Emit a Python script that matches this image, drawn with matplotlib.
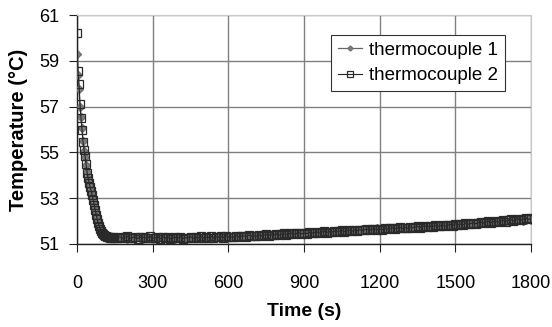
import numpy as np
import matplotlib
matplotlib.use("Agg")
import matplotlib.pyplot as plt

plt.rcParams['font.family'] = ['Liberation Sans', 'DejaVu Sans']

# sample times (s): fast sampling during initial drop, then 10 s
time_s = np.concatenate([np.arange(0, 150, 4), np.arange(160, 1801, 10)])

tc1 = [59.28, 58.4, 57.75, 57.0, 56.55, 56.05, 55.5, 55.05, 54.8, 54.45,
       54.15, 53.9, 53.72, 53.52, 53.32, 53.1, 52.88, 52.68, 52.45, 52.24,
       52.05, 51.88, 51.75, 51.64, 51.56, 51.49, 51.44, 51.39, 51.35, 51.33,
       51.31, 51.29, 51.31, 51.28, 51.27, 51.30, 51.28, 51.26,
       51.29, 51.26, 51.30, 51.27, 51.24, 51.31, 51.28, 51.25, 51.30, 51.27,
       51.24, 51.29, 51.32, 51.26, 51.29, 51.25, 51.27, 51.31, 51.24, 51.28,
       51.26, 51.30, 51.25, 51.23, 51.28, 51.26, 51.30, 51.24, 51.29, 51.27,
       51.30, 51.26, 51.31, 51.27, 51.29, 51.25, 51.32, 51.28, 51.30, 51.27,
       51.32, 51.28, 51.31, 51.30, 51.34, 51.29, 51.35, 51.31, 51.33, 51.36,
       51.33, 51.37, 51.34, 51.38, 51.35, 51.39, 51.36, 51.41, 51.37, 51.40,
       51.43, 51.38, 51.42, 51.40, 51.45, 51.41, 51.44, 51.42, 51.47, 51.45,
       51.48, 51.44, 51.47, 51.50, 51.46, 51.49, 51.52, 51.48, 51.51, 51.54,
       51.50, 51.53, 51.51, 51.56, 51.52, 51.55, 51.58, 51.54, 51.57, 51.55,
       51.59, 51.56, 51.60, 51.58, 51.62, 51.59, 51.61, 51.64, 51.60, 51.63,
       51.66, 51.62, 51.65, 51.68, 51.64, 51.67, 51.65, 51.70, 51.66, 51.69,
       51.72, 51.68, 51.71, 51.74, 51.70, 51.73, 51.71, 51.76, 51.72, 51.75,
       51.78, 51.74, 51.77, 51.80, 51.76, 51.79, 51.77, 51.82, 51.78, 51.81,
       51.84, 51.80, 51.83, 51.86, 51.82, 51.85, 51.88, 51.84, 51.87, 51.90,
       51.86, 51.89, 51.92, 51.88, 51.91, 51.94, 51.90, 51.93, 51.97, 51.92,
       51.95, 51.99, 51.94, 51.98, 52.01, 51.97, 52.00, 52.04, 51.99, 52.03,
       52.06, 52.01, 52.05, 52.08, 52.04]

tc2 = [60.23, 58.55, 57.98, 57.1, 56.5, 56.0, 55.45, 55.1, 54.85, 54.5,
       54.12, 53.87, 53.68, 53.5, 53.33, 53.15, 52.92, 52.72, 52.5, 52.28,
       52.08, 51.9, 51.78, 51.67, 51.58, 51.5, 51.45, 51.4, 51.36, 51.33,
       51.31, 51.30, 51.29, 51.28, 51.31, 51.27, 51.29, 51.28,
       51.27, 51.31, 51.26, 51.29, 51.33, 51.25, 51.28, 51.30, 51.24, 51.29,
       51.31, 51.26, 51.28, 51.33, 51.25, 51.27, 51.30, 51.24, 51.29, 51.26,
       51.30, 51.23, 51.27, 51.29, 51.25, 51.31, 51.24, 51.28, 51.26, 51.32,
       51.25, 51.29, 51.27, 51.33, 51.26, 51.30, 51.28, 51.35, 51.27, 51.31,
       51.29, 51.33, 51.28, 51.36, 51.30, 51.32, 51.29, 51.37, 51.31, 51.34,
       51.36, 51.32, 51.39, 51.34, 51.37, 51.33, 51.40, 51.36, 51.38, 51.42,
       51.37, 51.41, 51.39, 51.44, 51.38, 51.42, 51.46, 51.40, 51.44, 51.47,
       51.42, 51.46, 51.49, 51.44, 51.48, 51.45, 51.51, 51.47, 51.50, 51.53,
       51.48, 51.52, 51.55, 51.50, 51.54, 51.51, 51.57, 51.53, 51.56, 51.59,
       51.54, 51.58, 51.61, 51.56, 51.60, 51.57, 51.63, 51.59, 51.62, 51.65,
       51.60, 51.64, 51.67, 51.62, 51.66, 51.63, 51.69, 51.65, 51.68, 51.71,
       51.66, 51.70, 51.73, 51.68, 51.72, 51.69, 51.75, 51.71, 51.74, 51.77,
       51.72, 51.76, 51.79, 51.74, 51.78, 51.75, 51.81, 51.77, 51.80, 51.83,
       51.78, 51.82, 51.85, 51.80, 51.88, 51.83, 51.87, 51.84, 51.90, 51.86,
       51.89, 51.93, 51.88, 51.92, 51.96, 51.91, 51.95, 51.99, 51.93, 51.97,
       52.01, 51.95, 52.00, 52.04, 51.98, 52.03, 52.07, 52.01, 52.06, 52.10,
       52.04, 52.09, 52.13, 52.07, 52.12]

series_names = ["thermocouple 1", "thermocouple 2"]
x_ticks = [0, 300, 600, 900, 1200, 1500, 1800]
y_ticks = [51, 53, 55, 57, 59, 61]

fig = plt.figure(figsize=(5.52, 3.27), dpi=100)
ax = fig.add_axes([77/552, 1-244/327, (531-77)/552, (244-15)/327])

l1, = ax.plot(time_s, tc1, color='#666666', lw=0.9, marker='D', ms=3.6,
              mfc='#808080', mec='#707070', label=series_names[0], zorder=3)
l2, = ax.plot(time_s, tc2, color='#222222', lw=0.8, marker='s', ms=6,
              mfc='none', mec='#2a2a2a', mew=0.9, label=series_names[1],
              zorder=4)

ax.set_xlim(0, 1800)
ax.set_ylim(51, 61)
ax.set_xticks(x_ticks)
ax.set_yticks(y_ticks)
ax.grid(True, color='#808080', lw=1)
ax.set_axisbelow(True)

for s in ['top', 'right']:
    ax.spines[s].set_color('#c8c8c8')
for s in ['left', 'bottom']:
    ax.spines[s].set_color('#222222')
    ax.spines[s].set_linewidth(1)

ax.tick_params(axis='both', direction='out', length=6, color='#222222',
               labelsize=13)
ax.tick_params(axis='x', pad=16)
ax.tick_params(axis='y', pad=7)

ax.set_xlabel("Time (s)", fontsize=14, fontweight='bold', labelpad=8)
ax.set_ylabel("Temperature (°C)", fontsize=14.5, fontweight='bold', labelpad=8)

leg = ax.legend([l1, l2], series_names, loc='upper left',
                bbox_to_anchor=((331-77)/454, (244-35)/229), borderaxespad=0,
                fontsize=13.5, frameon=True, fancybox=False, framealpha=1,
                edgecolor='#333333', handlelength=1.3, handletextpad=0.4,
                borderpad=0.35, labelspacing=0.45, markerscale=0.7)
leg.get_frame().set_linewidth(0.8)
leg.set_zorder(10)

fig.savefig("out.png", dpi=100)
